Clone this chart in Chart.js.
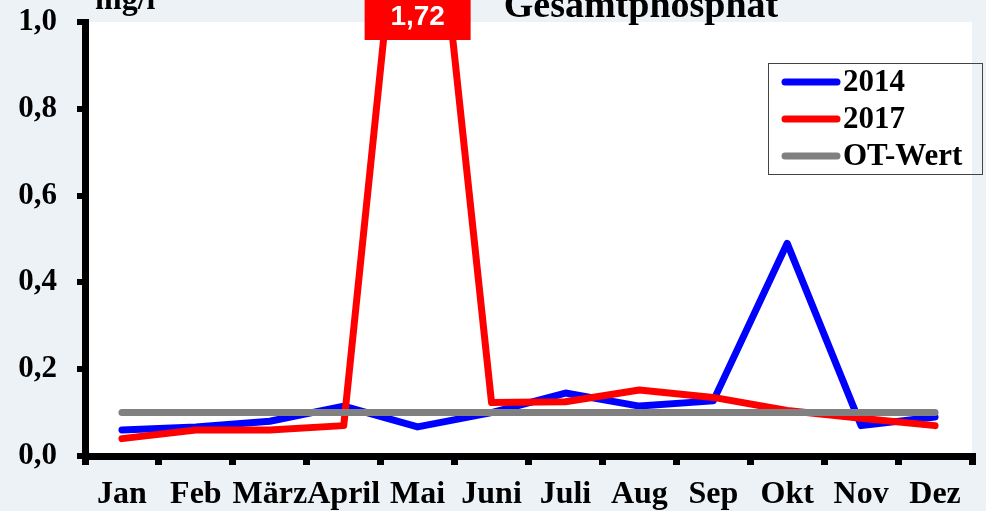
<!DOCTYPE html>
<html>
<head>
<meta charset="utf-8">
<script src="https://cdn.jsdelivr.net/npm/chart.js@4/dist/chart.umd.min.js"></script>
<style>
  html, body { margin: 0; padding: 0; background: #edf2f7; }
  #wrap { width: 986px; height: 511px; }
</style>
</head>
<body>
<div id="wrap"><canvas id="chart"></canvas></div>
<script>
// Werte (mg/l)
const months = ['Jan', 'Feb', 'März', 'April', 'Mai', 'Juni', 'Juli', 'Aug', 'Sep', 'Okt', 'Nov', 'Dez'];
const values2014 = [0.06, 0.067, 0.08, 0.115, 0.067, 0.10, 0.145, 0.115, 0.127, 0.49, 0.07, 0.09];
const values2017 = [0.04, 0.06, 0.06, 0.07, 1.72, 0.123, 0.125, 0.152, 0.135, 0.105, 0.087, 0.07];
const otWert = [0.1, 0.1, 0.1, 0.1, 0.1, 0.1, 0.1, 0.1, 0.1, 0.1, 0.1, 0.1];
const yTicks = [0, 0.2, 0.4, 0.6, 0.8, 1.0];
const yMax = 1.0;

const serif = '"Liberation Serif", "Times New Roman", serif';
const fmt = v => v.toFixed(1).replace('.', ',');

// Hintergrund, Titel, Einheit, Legende und Beschriftung des Ausreissers
const decoPlugin = {
    id: 'deco',
    beforeDraw(chart) {
        const { ctx, chartArea: a } = chart;
        ctx.save();
        ctx.fillStyle = '#edf2f7';
        ctx.fillRect(0, 0, chart.width, chart.height);
        ctx.fillStyle = '#ffffff';
        ctx.fillRect(a.left, a.top, a.right - a.left, a.bottom - a.top);
        ctx.restore();
    },
    afterDatasetsDraw(chart) {
        const { ctx } = chart;
        const xs = chart.scales.x;
        ctx.save();

        // Titel
        ctx.fillStyle = '#000';
        ctx.font = 'bold 38px ' + serif;
        ctx.textAlign = 'center';
        ctx.textBaseline = 'alphabetic';
        ctx.fillText('Gesamtphosphat', 641, 17);

        // Einheit
        ctx.font = 'bold 32px ' + serif;
        ctx.textAlign = 'left';
        ctx.fillText('mg/l', 95, 9);

        // Werte ueber der Achse markieren
        chart.data.datasets.forEach(ds => {
            ds.data.forEach((v, i) => {
                if (v > yMax) {
                    const x = xs.getPixelForValue(i);
                    ctx.fillStyle = ds.borderColor;
                    ctx.fillRect(x - 53, 0, 106, 40);
                    ctx.fillStyle = '#ffffff';
                    ctx.font = 'bold 28px "Liberation Sans", Arial, sans-serif';
                    ctx.textAlign = 'center';
                    ctx.textBaseline = 'middle';
                    ctx.fillText(v.toFixed(2).replace('.', ','), x, 17);
                }
            });
        });

        // Legende
        const lx = 768, ly = 63, lw = 214, lh = 111;
        ctx.strokeStyle = '#444';
        ctx.lineWidth = 1;
        ctx.strokeRect(lx + 0.5, ly + 0.5, lw, lh);
        const rows = [82, 119, 156];
        chart.data.datasets.forEach((ds, i) => {
            const y = rows[i];
            ctx.strokeStyle = ds.borderColor;
            ctx.lineWidth = 7;
            ctx.lineCap = 'round';
            ctx.beginPath();
            ctx.moveTo(785, y);
            ctx.lineTo(837, y);
            ctx.stroke();
            ctx.fillStyle = '#000';
            ctx.font = 'bold 31px ' + serif;
            ctx.textAlign = 'left';
            ctx.textBaseline = 'middle';
            ctx.fillText(ds.label, 843, y + 1);
        });
        ctx.restore();
    }
};

const lineStyle = {
    borderWidth: 7,
    pointRadius: 0,
    pointHoverRadius: 0,
    tension: 0,
    borderCapStyle: 'round',
    borderJoinStyle: 'round',
    fill: false
};

new Chart(document.getElementById('chart'), {
    type: 'line',
    data: {
        labels: months,
        datasets: [
            Object.assign({ label: '2014', data: values2014, borderColor: '#0000ff', order: 2 }, lineStyle),
            Object.assign({ label: '2017', data: values2017, borderColor: '#ff0000', order: 1 }, lineStyle),
            Object.assign({ label: 'OT-Wert', data: otWert, borderColor: '#808080', order: 0 }, lineStyle)
        ]
    },
    options: {
        responsive: true,
        maintainAspectRatio: false,
        animation: false,
        layout: { padding: { top: 22, right: 14, left: 0, bottom: 0 } },
        plugins: {
            legend: { display: false },
            title: { display: false },
            tooltip: { enabled: false }
        },
        scales: {
            x: {
                offset: true,
                grid: {
                    offset: true,
                    drawOnChartArea: false,
                    drawTicks: true,
                    tickLength: 9,
                    lineWidth: 7,
                    color: '#000'
                },
                border: { display: true, color: '#000', width: 7 },
                ticks: {
                    color: '#000',
                    font: { family: serif, size: 32, weight: 'bold' },
                    padding: 11,
                    maxRotation: 0,
                    autoSkip: false
                },
                afterFit: s => { s.height = 55; s.paddingLeft = 0; s.paddingRight = 0; }
            },
            y: {
                min: 0,
                max: yMax,
                afterBuildTicks: s => { s.ticks = yTicks.map(v => ({ value: v })); },
                grid: {
                    drawOnChartArea: false,
                    drawTicks: true,
                    tickLength: 8,
                    lineWidth: 6,
                    color: '#000'
                },
                border: { display: true, color: '#000', width: 7 },
                ticks: {
                    color: '#000',
                    font: { family: serif, size: 31, weight: 'bold' },
                    padding: 20,
                    callback: v => fmt(v)
                },
                afterFit: s => { s.width = 85; s.paddingTop = 0; s.paddingBottom = 0; }
            }
        }
    },
    plugins: [decoPlugin]
});
</script>
</body>
</html>
